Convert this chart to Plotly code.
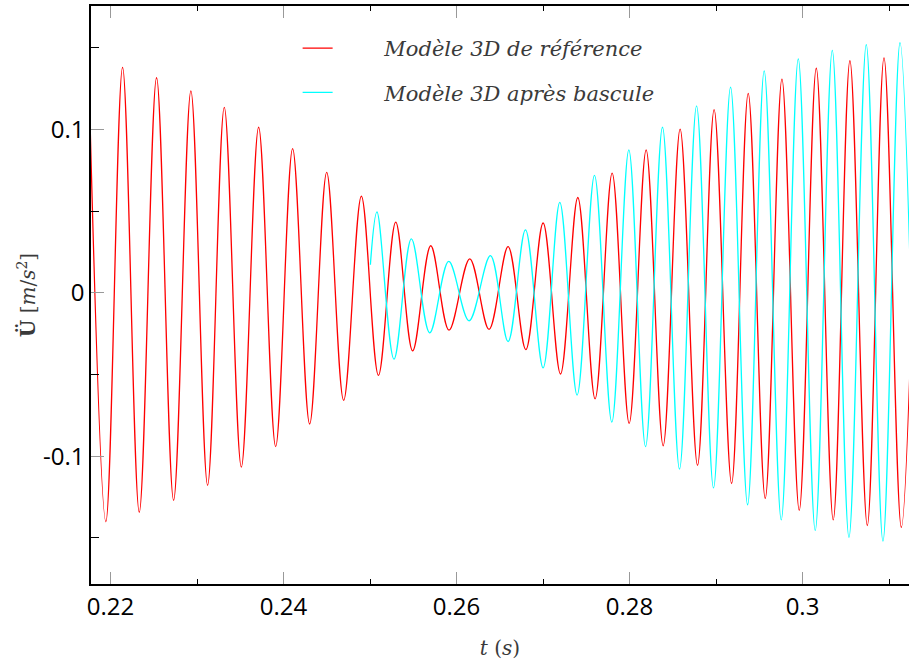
import plotly.graph_objects as go

# Extrema (time in s, acceleration in m/s^2)
ref_t = [0.21745, 0.21946, 0.22139, 0.22332, 0.22532, 0.22729, 0.22929, 0.23122,
         0.23315, 0.23512, 0.23712, 0.23909, 0.24105, 0.24302, 0.24499, 0.24695,
         0.24900, 0.25097, 0.25297, 0.25493, 0.25702, 0.25913, 0.26153, 0.26376,
         0.26596, 0.26801, 0.27001, 0.27202, 0.27402, 0.27602, 0.27799, 0.27996,
         0.28192, 0.28389, 0.28585, 0.28786, 0.28978, 0.29180, 0.29372, 0.29569,
         0.29762, 0.29962, 0.30159, 0.30355, 0.30548, 0.30749, 0.30942, 0.31142,
         0.31340]
ref_u = [0.1415, -0.1401, 0.1380, -0.1343, 0.1316, -0.1270, 0.1236, -0.1178,
         0.1135, -0.1067, 0.1013, -0.0941, 0.0882, -0.0803, 0.0737, -0.0658,
         0.0592, -0.0505, 0.0433, -0.0355, 0.0288, -0.0229, 0.0208, -0.0224,
         0.0282, -0.0348, 0.0427, -0.0497, 0.0583, -0.0649, 0.0732, -0.0799,
         0.0875, -0.0936, 0.1001, -0.1056, 0.1121, -0.1167, 0.1220, -0.1258,
         0.1307, -0.1332, 0.1374, -0.1390, 0.1420, -0.1424, 0.1438, -0.1435,
         0.1445]

bas_t = [0.25004, 0.25080, 0.25277, 0.25478, 0.25690, 0.25910, 0.26145, 0.26392,
         0.26596, 0.26797, 0.27001, 0.27194, 0.27394, 0.27595, 0.27795, 0.27992,
         0.28185, 0.28381, 0.28578, 0.28775, 0.28971, 0.29168, 0.29365, 0.29557,
         0.29754, 0.29951, 0.30147, 0.30344, 0.30537, 0.30737, 0.30930, 0.31127,
         0.31322]
bas_u = [0.0172, 0.0495, -0.0406, 0.0330, -0.0245, 0.0192, -0.0171, 0.0227,
         -0.0298, 0.0385, -0.0459, 0.0553, -0.0626, 0.0718, -0.0792, 0.0875,
         -0.0941, 0.1013, -0.1079, 0.1144, -0.1194, 0.1258, -0.1297, 0.1358,
         -0.1390, 0.1431, -0.1454, 0.1484, -0.1497, 0.1519, -0.1520, 0.1530,
         -0.1535]

x_tickvals = [0.22, 0.24, 0.26, 0.28, 0.30]
x_ticktext = ["0.22", "0.24", "0.26", "0.28", "0.3"]
y_tickvals = [-0.1, 0.0, 0.1]
y_ticktext = ["-0.1", "0", "0.1"]

serif = "DejaVu Serif"
txt_col = "#3a3a3a"
gap = "\u00a0" * 7

fig = go.Figure()
fig.add_trace(go.Scatter(
    x=ref_t, y=ref_u, mode="lines", name=gap + "Modèle 3D de référence",
    legendgroup="ref",
    line=dict(color="#ff0000", width=1.3, shape="spline", smoothing=1)))
fig.add_trace(go.Scatter(
    x=bas_t, y=bas_u, mode="lines", name=gap + "Modèle 3D après bascule",
    legendgroup="bas",
    line=dict(color="#00ffff", width=1.3, shape="spline", smoothing=1)))

fig.update_layout(
    width=909, height=664,
    margin=dict(l=91, r=0, t=6, b=80),
    paper_bgcolor="white", plot_bgcolor="white",
    showlegend=True,
    legend=dict(x=0.2526, y=0.9619, xanchor="left", yanchor="top",
                bgcolor="rgba(0,0,0,0)", borderwidth=0,
                tracegroupgap=14, traceorder="grouped",
                font=dict(family=serif, size=21, color=txt_col, style="italic")),
    xaxis=dict(
        range=[0.21774, 0.31231], automargin=False,
        tickmode="array", tickvals=x_tickvals, ticktext=x_ticktext,
        ticks="inside", ticklen=12, tickwidth=1, tickcolor="#999999",
        minor=dict(tickmode="linear", tick0=0.21, dtick=0.01, ticks="inside",
                   ticklen=5, tickwidth=1, tickcolor="black"),
        showline=True, linecolor="black", linewidth=1.5, mirror="ticks",
        showgrid=False, zeroline=False,
        tickfont=dict(family="Open Sans", size=24, color="black"),
        title=dict(text="<i>t</i> (<i>s</i>)",
                   font=dict(family=serif, size=20, color=txt_col), standoff=20),
    ),
    yaxis=dict(
        range=[-0.1782, 0.1755], automargin=False,
        tickmode="array", tickvals=y_tickvals, ticktext=y_ticktext,
        ticks="inside", ticklen=13, tickwidth=1, tickcolor="#999999",
        minor=dict(tickmode="linear", tick0=0.05, dtick=0.1, ticks="inside",
                   ticklen=8, tickwidth=1, tickcolor="black"),
        showline=True, linecolor="black", linewidth=1.5, mirror=False,
        showgrid=False, zeroline=False,
        tickfont=dict(family="Open Sans", size=24, color="black"),
        title=dict(text="<b>Ü</b> [<i>m</i>/<i>s</i><sup>2</sup>]",
                   font=dict(family=serif, size=20, color=txt_col), standoff=2),
    ),
)

fig.write_html("out.html",
               config={"displayModeBar": False},
               post_script="document.body.style.margin='0px';"
                           "document.body.style.overflow='hidden';")
